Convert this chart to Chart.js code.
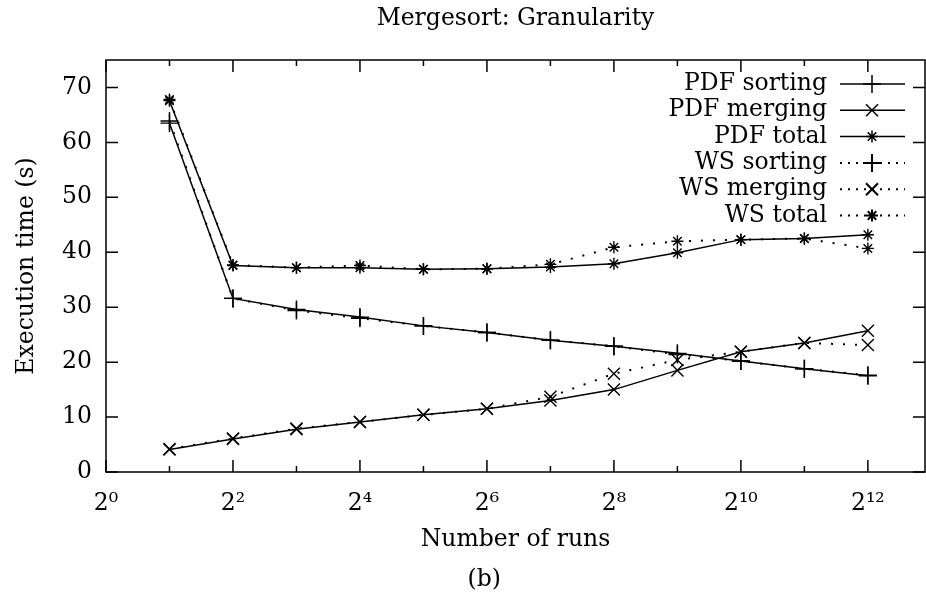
<!DOCTYPE html>
<html>
<head>
<meta charset="utf-8">
<script src="https://cdn.jsdelivr.net/npm/chart.js@4.4.1/dist/chart.umd.min.js"></script>
<style>
  html, body { margin: 0; padding: 0; background: #fff; overflow: hidden; }
  #wrap { width: 926px; height: 594px; }
</style>
</head>
<body>
<div id="wrap"><canvas id="granularityChart"></canvas></div>
<script>
// number of runs (x) and execution times in seconds
var runs = [2, 4, 8, 16, 32, 64, 128, 256, 512, 1024, 2048, 4096];
var pdfSorting = [63.5, 31.6, 29.6, 28.2, 26.6, 25.4, 24.0, 22.9, 21.6, 20.2, 18.8, 17.5];
var pdfMerging = [4.1, 6.0, 7.8, 9.1, 10.4, 11.5, 13.0, 15.0, 18.5, 21.9, 23.5, 25.7];
var pdfTotal = [67.6, 37.6, 37.2, 37.2, 36.9, 37.0, 37.3, 37.9, 39.9, 42.3, 42.5, 43.2];
var wsSorting = [63.9, 31.6, 29.4, 28.0, 26.6, 25.4, 24.0, 22.9, 21.4, 20.2, 18.8, 17.6];
var wsMerging = [4.2, 6.1, 7.9, 9.1, 10.4, 11.5, 13.7, 17.9, 20.4, 21.9, 23.5, 23.1];
var wsTotal = [67.8, 37.7, 37.2, 37.6, 36.9, 37.0, 37.8, 40.9, 42.0, 42.3, 42.5, 40.7];
var xTickPowers = [0, 2, 4, 6, 8, 10, 12];
var yTicks = [0, 10, 20, 30, 40, 50, 60, 70];

var FONT = '"DejaVu Serif", "Liberation Serif", serif';
var FS = 23.5;
Chart.defaults.font.family = FONT;
Chart.defaults.font.size = FS;
Chart.defaults.color = '#000';

var sup = { '0': '\u2070', '1': '\u00b9', '2': '\u00b2', '4': '\u2074', '6': '\u2076', '8': '\u2078' };
function powLabel(p) {
    return '2' + String(p).split('').map(function (c) { return sup[c]; }).join('');
}

function series(label, values, style, dotted, radius) {
    return {
        label: label,
        data: values.map(function (v, i) { return { x: runs[i], y: v }; }),
        borderColor: '#000',
        backgroundColor: '#000',
        borderWidth: dotted ? 2 : 1.5,
        borderDash: dotted ? [2, 10] : [],
        borderCapStyle: 'butt',
        pointStyle: style,
        pointRadius: radius,
        pointBorderWidth: 1.4,
        pointBorderColor: '#000',
        tension: 0,
        fill: false
    };
}

// gnuplot style frame with inward ticks on all sides
var frameTicks = {
    id: 'frameTicks',
    beforeDatasetsDraw: function (chart) {
        var ctx = chart.ctx, a = chart.chartArea, x = chart.scales.x, y = chart.scales.y;
        ctx.save();
        ctx.strokeStyle = '#000';
        ctx.lineWidth = 1.5;
        ctx.strokeRect(a.left, a.top, a.right - a.left, a.bottom - a.top);
        ctx.beginPath();
        for (var p = 0; p <= 12; p++) {
            var px = x.getPixelForValue(Math.pow(2, p));
            var len = p % 2 === 0 ? 12 : 6;
            ctx.moveTo(px, a.bottom); ctx.lineTo(px, a.bottom - len);
            ctx.moveTo(px, a.top); ctx.lineTo(px, a.top + len);
        }
        yTicks.forEach(function (v) {
            var py = y.getPixelForValue(v);
            ctx.moveTo(a.left, py); ctx.lineTo(a.left + 12, py);
            ctx.moveTo(a.right, py); ctx.lineTo(a.right - 12, py);
        });
        ctx.stroke();
        ctx.restore();
    }
};

// key: right aligned text with line + point sample, plus the "(b)" caption
var sampleLegend = {
    id: 'sampleLegend',
    afterDatasetsDraw: function (chart) {
        var ctx = chart.ctx, a = chart.chartArea;
        ctx.save();
        ctx.font = FS + 'px ' + FONT;
        ctx.textAlign = 'right';
        ctx.textBaseline = 'middle';
        chart.data.datasets.forEach(function (ds, i) {
            var yy = a.top + 24 + i * 26.3;
            ctx.fillStyle = '#000';
            ctx.fillText(ds.label, a.right - 98, yy);
            ctx.strokeStyle = '#000';
            ctx.lineWidth = ds.borderWidth;
            ctx.setLineDash(ds.borderDash.length ? [2, 6] : []);
            ctx.beginPath();
            ctx.moveTo(a.right - 85, yy);
            ctx.lineTo(a.right - 20, yy);
            ctx.stroke();
            ctx.setLineDash([]);
            Chart.helpers.drawPoint(ctx, { pointStyle: ds.pointStyle, radius: ds.pointRadius, borderWidth: 1.4, rotation: 0 }, a.right - 53, yy);
        });
        ctx.textAlign = 'center';
        ctx.fillText('(b)', chart.width * 0.523, chart.height - 14);
        ctx.restore();
    }
};

var ctxGranularity = document.getElementById('granularityChart').getContext('2d');
var granularityChart = new Chart(ctxGranularity, {
    type: 'line',
    plugins: [frameTicks, sampleLegend],
    data: {
        datasets: [
            series('PDF sorting', pdfSorting, 'cross', false, 9),
            series('PDF merging', pdfMerging, 'crossRot', false, 8.5),
            series('PDF total', pdfTotal, 'star', false, 6),
            series('WS sorting', wsSorting, 'cross', true, 9),
            series('WS merging', wsMerging, 'crossRot', true, 8.5),
            series('WS total', wsTotal, 'star', true, 6)
        ]
    },
    options: {
        responsive: true,
        maintainAspectRatio: false,
        animation: false,
        layout: { autoPadding: false, padding: { left: 0, right: 1, top: 0, bottom: 28.2 } },
        plugins: {
            legend: { display: false },
            tooltip: { enabled: false },
            title: {
                display: true,
                fullSize: false,
                text: 'Mergesort: Granularity',
                font: { size: FS, weight: 'normal' },
                padding: { top: 5, bottom: 26.8 }
            }
        },
        scales: {
            x: {
                type: 'logarithmic',
                min: 1,
                max: Math.pow(2, 12.9),
                grid: { display: false, drawTicks: false },
                border: { display: false },
                afterBuildTicks: function (scale) {
                    scale.ticks = xTickPowers.map(function (p) { return { value: Math.pow(2, p) }; });
                },
                afterFit: function (scale) {
                    scale.height = 93.8;
                    scale.paddingLeft = 0;
                    scale.paddingRight = 0;
                },
                ticks: {
                    autoSkip: false,
                    maxRotation: 0,
                    padding: 18,
                    callback: function (v) { return powLabel(Math.round(Math.log2(v))); }
                },
                title: { display: true, text: 'Number of runs', padding: { top: 0, bottom: 11.7 } }
            },
            y: {
                min: 0,
                max: 75,
                grid: { display: false, drawTicks: false },
                border: { display: false },
                afterBuildTicks: function (scale) {
                    scale.ticks = yTicks.map(function (v) { return { value: v }; });
                },
                afterFit: function (scale) { scale.width = 106; },
                ticks: { padding: 14 },
                title: { display: true, text: 'Execution time (s)', padding: { top: 12.9, bottom: 0 } }
            }
        }
    }
});
</script>
</body>
</html>
